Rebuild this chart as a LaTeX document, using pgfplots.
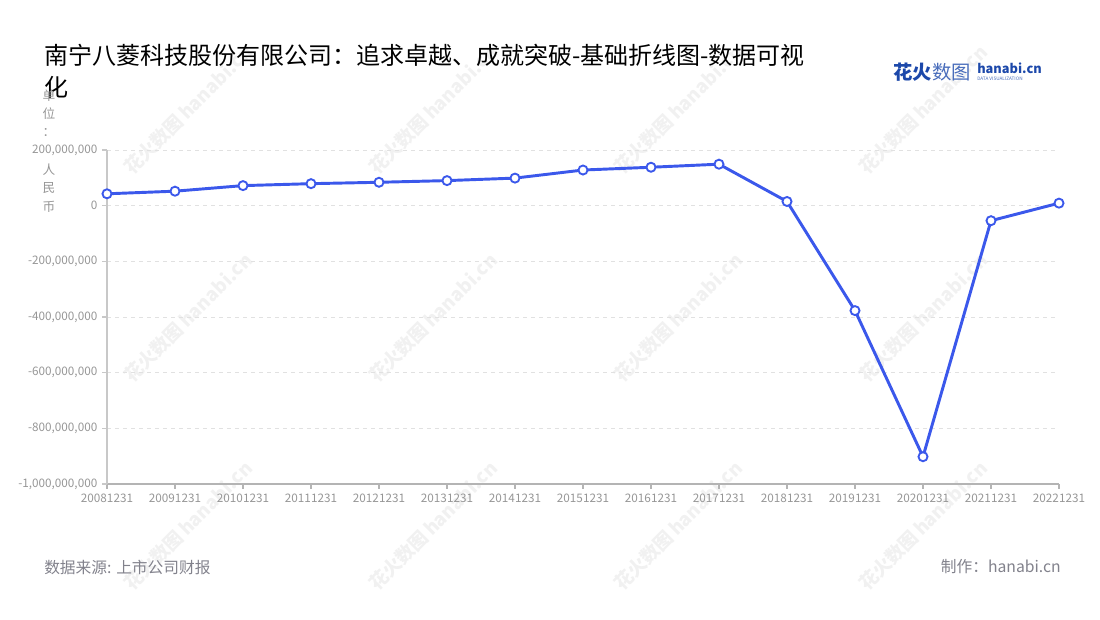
\documentclass[border=0pt]{standalone}
\usepackage{fontspec}
\setmainfont{Noto Sans CJK SC}
\usepackage{pgfplots}
\pgfplotsset{compat=1.18}

\definecolor{lineblue}{RGB}{59,88,235}
\definecolor{tickgray}{RGB}{150,150,150}
\definecolor{axisgray}{RGB}{200,200,200}
\definecolor{gridgray}{RGB}{225,225,225}
\definecolor{footgray}{RGB}{130,130,140}
\definecolor{wmgray}{RGB}{241,241,241}
\definecolor{logoblue}{RGB}{28,72,170}

\begin{document}
\begin{tikzpicture}[x=0.75pt,y=0.75pt]
\path (0,0) rectangle (1100,620);

% watermarks
\foreach \wx in {188,433,678,923}{
  \foreach \wy in {110,318,526}{
    \node[rotate=45,text=wmgray,font=\fontsize{14}{14}\selectfont\bfseries,inner sep=0pt]
      at (\wx,620-\wy) {花火数图\,hanabi.cn};
  }
}

% title
\node[anchor=west,inner sep=0pt,font=\fontsize{18}{18}\selectfont] at (44,620-55)
  {南宁八菱科技股份有限公司：追求卓越、成就突破-基础折线图-数据可视};
\node[anchor=west,inner sep=0pt,font=\fontsize{18}{18}\selectfont] at (44,620-87) {化};

% logo
\node[anchor=west,inner sep=0pt,text=logoblue,font=\fontsize{14.5}{14.5}\selectfont\bfseries] at (893,620-72) {花火};
\node[anchor=west,inner sep=0pt,text=logoblue!80,font=\fontsize{14.5}{14.5}\selectfont] at (932,620-72) {数图};
\node[anchor=west,inner sep=0pt,text=logoblue,font=\fontsize{9.6}{9.6}\selectfont\bfseries] at (977,620-68) {hanabi.cn};
\node[anchor=west,inner sep=0pt,text=logoblue!80,font=\fontsize{3.5}{3.5}\selectfont] at (977,620-79) {DATA VISUALIZATION};

% unit label
\foreach \c/\cy in {单/96,位/114,：/133,人/170,民/188,币/207}{
  \node[inner sep=0pt,text=tickgray,font=\fontsize{9.5}{9.5}\selectfont] at (49,620-\cy) {\c};
}

% footer
\node[anchor=west,inner sep=0pt,text=footgray,font=\fontsize{11.8}{11.8}\selectfont] at (44,620-567) {数据来源: 上市公司财报};
\node[anchor=east,inner sep=0pt,text=footgray,font=\fontsize{11.8}{11.8}\selectfont] at (1061,620-567) {制作：hanabi.cn};

\begin{axis}[
  at={(80.25pt,102pt)}, anchor=south west,
  scale only axis, width=714pt, height=250.5pt,
  xmin=0, xmax=14,
  ymin=-1000000000, ymax=200000000,
  scaled y ticks=false,
  clip=false,
  axis x line=bottom, axis y line=left,
  x axis line style={-, draw=axisgray!90!black, line width=0.9pt},
  y axis line style={-, draw=axisgray, line width=0.8pt},
  tick align=outside,
  major tick length=3.75pt,
  xtick={0,...,14},
  xticklabels={20081231,20091231,20101231,20111231,20121231,20131231,20141231,20151231,20161231,20171231,20181231,20191231,20201231,20211231,20221231},
  ytick={-1000000000,-800000000,-600000000,-400000000,-200000000,0,200000000},
  yticklabels={{-1,000,000,000},{-800,000,000},{-600,000,000},{-400,000,000},{-200,000,000},{0},{200,000,000}},
  x tick style={draw=axisgray!90!black, line width=0.8pt},
  y tick style={draw=axisgray, line width=0.8pt},
  ticklabel style={text=tickgray, font=\fontsize{8.8}{8.8}\selectfont},
  ymajorgrids,
  grid style={dashed, draw=gridgray, line width=0.7pt},
]
\addplot[lineblue, line width=2.2pt, mark=*, mark size=3.4pt,
  mark options={fill=white, draw=lineblue, line width=1.4pt}]
  coordinates {
  (0,42600000) (1,52000000) (2,72000000) (3,79000000) (4,84000000)
  (5,90000000) (6,99000000) (7,128000000) (8,138000000) (9,149000000)
  (10,15000000) (11,-377000000) (12,-902000000) (13,-54000000) (14,9000000)
  };
\end{axis}
\end{tikzpicture}
\end{document}
